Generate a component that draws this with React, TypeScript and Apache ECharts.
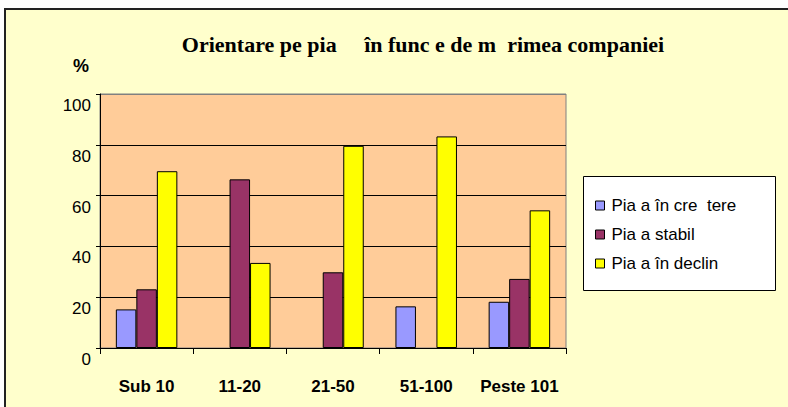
import React, { useEffect, useRef } from "react";
import * as echarts from "echarts";

const titleText = "Orientare pe pia     în func e de m  rimea companiei";
const unitLabel = "%";
const categories = ["Sub 10", "11-20", "21-50", "51-100", "Peste 101"];
const seriesNames = ["Pia a în cre  tere", "Pia a stabil", "Pia a în declin"];
const cresterea = [15.2, null, null, 16.4, 18.2];
const stabila = [23.1, 66.4, 29.8, null, 27.2];
const declin = [69.6, 33.5, 79.6, 83.3, 54.2];
const colors = ["#9999FF", "#993366", "#FFFF00"];

export default function App() {
  const ref = useRef<HTMLDivElement>(null);
  useEffect(() => {
    if (!ref.current) return;
    const chart = echarts.init(ref.current, null, { renderer: "svg" });
    const values = [cresterea, stabila, declin];
    chart.setOption({
      animation: false,
      backgroundColor: "#FFFFFF",
      title: {
        text: titleText,
        left: 418,
        top: 28,
        textAlign: "center",
        textStyle: {
          fontFamily: "Liberation Serif",
          fontWeight: "bold",
          fontSize: 22,
          color: "#000",
        },
      },
      graphic: [
        {
          type: "rect",
          z: -10,
          shape: { x: 5, y: 9, width: 800, height: 420 },
          style: { fill: "#FFFFCC", stroke: "#222", lineWidth: 2 },
          silent: true,
        },
        {
          type: "rect",
          z: 0,
          shape: { x: 583.5, y: 176.5, width: 192, height: 114 },
          style: { fill: "#FFFFFF", stroke: "#000", lineWidth: 1 },
          silent: true,
        },
        {
          type: "text",
          left: 73,
          top: 57,
          style: {
            text: unitLabel,
            font: "bold 18px Liberation Sans",
            fill: "#000",
          },
        },
      ],
      legend: {
        orient: "vertical",
        left: 590,
        top: 192,
        itemWidth: 9,
        itemHeight: 9,
        itemGap: 12,
        icon: "rect",
        z: 5,
        textStyle: {
          fontFamily: "Liberation Sans",
          fontSize: 17,
          lineHeight: 17,
          color: "#000",
          padding: [0, 0, 0, 2],
        },
        itemStyle: { borderColor: "#000", borderWidth: 1 },
        data: seriesNames,
      },
      grid: {
        left: 100,
        right: 222,
        top: 94,
        bottom: 59,
        show: true,
        backgroundColor: "#FFCC99",
        borderColor: "#808080",
        borderWidth: 1,
      },
      xAxis: {
        type: "category",
        data: categories,
        axisLine: { show: true, lineStyle: { color: "#000", width: 1 } },
        axisTick: { show: true, length: 6, lineStyle: { color: "#000" } },
        axisLabel: {
          interval: 0,
          fontFamily: "Liberation Sans",
          fontWeight: "bold",
          fontSize: 17,
          color: "#000",
          margin: 30,
        },
      },
      yAxis: {
        type: "value",
        min: 0,
        max: 100,
        interval: 20,
        axisLine: { show: true, lineStyle: { color: "#000", width: 1 } },
        axisTick: { show: true, length: 4, lineStyle: { color: "#000" } },
        axisLabel: {
          fontFamily: "Liberation Sans",
          fontSize: 17,
          color: "#000",
          margin: 9,
          verticalAlign: "top",
          padding: [3, 0, 0, 0],
        },
        splitLine: {
          show: true,
          lineStyle: {
            color: ["#000", "#000", "#000", "#000", "#000", "#808080"],
            width: 1,
          },
        },
      },
      series: seriesNames.map((name, i) => ({
        name,
        type: "bar",
        data: values[i],
        barGap: "0%",
        barCategoryGap: "34%",
        itemStyle: { color: colors[i], borderColor: "#000", borderWidth: 1 },
      })),
    });
    return () => chart.dispose();
  }, []);
  return (
    <div
      ref={ref}
      style={{ position: "absolute", left: 0, top: 0, width: 788, height: 407 }}
    />
  );
}
